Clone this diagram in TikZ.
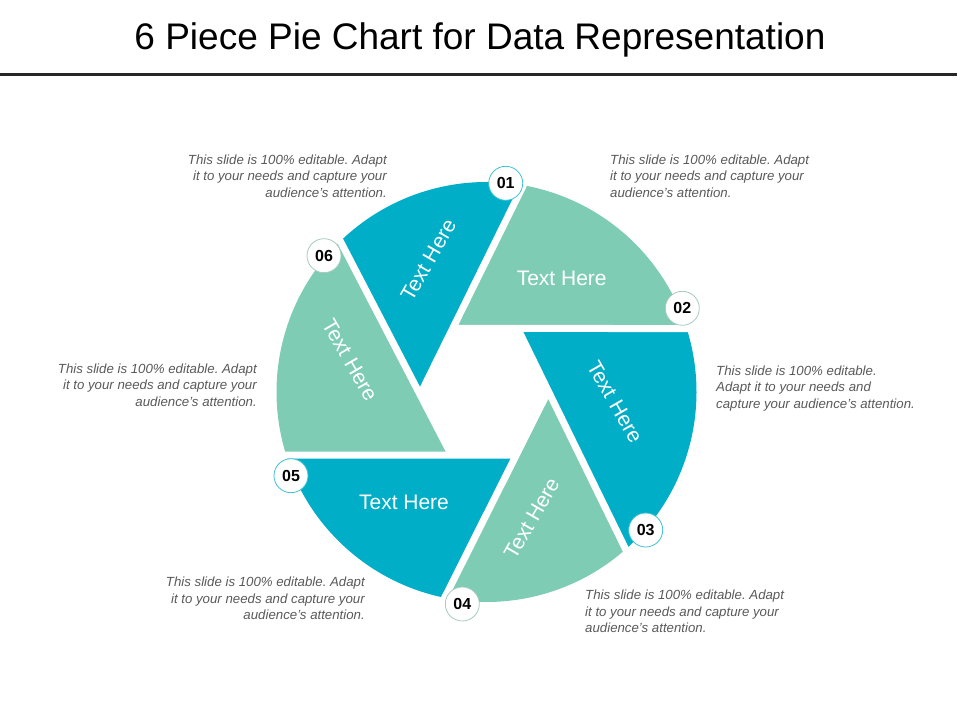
\documentclass[tikz,border=0pt]{standalone}
\usepackage{fontspec}
\setmainfont{Liberation Sans}
\usetikzlibrary{calc}
\definecolor{tealpiece}{RGB}{0,174,199}
\definecolor{greenpiece}{RGB}{126,204,180}
\definecolor{blurbgray}{RGB}{89,89,89}
\definecolor{rulegray}{RGB}{38,38,38}
\frenchspacing

\begin{document}
\begin{tikzpicture}[
  x=1pt, y=1pt,
  gap/.style = {draw=white, line width=7pt, shorten <=-1pt, shorten >=-6pt},
  num/.style = {circle, draw=tealpiece!75, line width=0.8pt, fill=white, minimum size=34pt, inner sep=0pt, font=\fontsize{16}{16}\selectfont\bfseries},
  numg/.style = {num, draw=greenpiece!70!gray!70},
  lbl/.style = {text=white, inner sep=0pt, font=\fontsize{21}{25}\selectfont},
  blurb/.style = {text=blurbgray, inner sep=0pt, font=\fontsize{13.25}{16.5}\selectfont\itshape}
  ]
	\useasboundingbox (0,0) rectangle (960,720);

	\node[anchor=base, inner sep=0pt, font=\fontsize{37}{44}\selectfont] (title) at (480,670) {6 Piece Pie Chart for Data Representation};
	\draw[rulegray, line width=3pt] (0,645) -- (957,645);

	\begin{scope}[shift={(486.5,328)}]
	% corners of the hole
	\coordinate (hCA) at (-33.8,63.5);
	\coordinate (hAF) at (31.2,63.5);
	\coordinate (hFE) at (61.8,0.9);
	\coordinate (hEB) at (29.8,-63);
	\coordinate (hBD) at (-35.1,-63);
	\coordinate (hDC) at (-66.4,-2.5);
	% ends on the rim
	\coordinate (jA) at (17.6:210);
	\coordinate (jC) at (79.9:210);
	\coordinate (jD) at (134.1:210);
	\coordinate (jB) at (197.5:210);
	\coordinate (jE) at (258.5:210);
	\coordinate (jF) at (311.5:210);

	\fill[greenpiece] (hCA) -- (jA) arc[start angle=17.6, end angle=79.9, radius=210] -- cycle;
	\fill[tealpiece] (hDC) -- (jC) arc[start angle=79.9, end angle=134.1, radius=210] -- cycle;
	\fill[greenpiece] (hBD) -- (jD) arc[start angle=134.1, end angle=197.5, radius=210] -- cycle;
	\fill[tealpiece] (hEB) -- (jB) arc[start angle=197.5, end angle=258.5, radius=210] -- cycle;
	\fill[greenpiece] (hFE) -- (jE) arc[start angle=258.5, end angle=311.5, radius=210] -- cycle;
	\fill[tealpiece] (hAF) -- (jF) arc[start angle=311.5, end angle=377.6, radius=210] -- cycle;

	\draw[gap] (hCA) -- (jA);
	\draw[gap] (hDC) -- (jC);
	\draw[gap] (hBD) -- (jD);
	\draw[gap] (hEB) -- (jB);
	\draw[gap] (hFE) -- (jE);
	\draw[gap] (hAF) -- (jF);
	\end{scope}

	\node[lbl] (t02) at (561.7,441.7) {Text Here};
	\node[lbl, rotate=60] (t01) at (428.3,460) {Text Here};
	\node[lbl, rotate=-60] (t06) at (350,360) {Text Here};
	\node[lbl, rotate=-60] (t03) at (615,318) {Text Here};
	\node[lbl] (t05) at (404,217.3) {Text Here};
	\node[lbl, rotate=60] (t04) at (531.7,201.7) {Text Here};

	\node[num] (n01) at (505.7,536.7) {01};
	\node[numg] (n02) at (682.3,411.7) {02};
	\node[num] (n03) at (645.7,190) {03};
	\node[numg] (n04) at (462.3,116) {04};
	\node[num] (n05) at (291,244.3) {05};
	\node[numg] (n06) at (324,464.3) {06};

	% base = last line
	\node[blurb, align=right, anchor=base east] (b06) at (387,522.5) {This slide is 100\% editable. Adapt\\it to your needs and capture your\\audience's attention.};
	\node[blurb, align=left, anchor=base west] (b01) at (610,522.5) {This slide is 100\% editable. Adapt\\it to your needs and capture your\\audience's attention.};
	\node[blurb, align=right, anchor=base east] (b05) at (257,313.5) {This slide is 100\% editable. Adapt\\it to your needs and capture your\\audience's attention.};
	\node[blurb, align=left, anchor=base west] (b02) at (716,311.5) {This slide is 100\% editable.\\Adapt it to your needs and\\capture your audience's attention.};
	\node[blurb, align=right, anchor=base east] (b04) at (365,100.5) {This slide is 100\% editable. Adapt\\it to your needs and capture your\\audience's attention.};
	\node[blurb, align=left, anchor=base west] (b03) at (585,87.5) {This slide is 100\% editable. Adapt\\it to your needs and capture your\\audience's attention.};

\end{tikzpicture}
\end{document}
